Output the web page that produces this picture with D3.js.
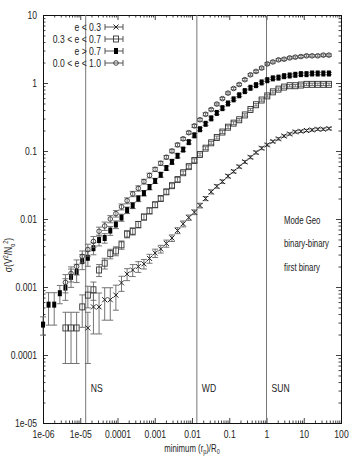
<!DOCTYPE html>
<html>
<head>
<meta charset="utf-8">
<script src="https://cdn.jsdelivr.net/npm/d3@7"></script>
<style>
    body { margin: 0; background: #fff; }
    text { font-family: "Liberation Sans", Arial, sans-serif; fill: #222; }
</style>
</head>
<body>
<div id="chart"></div>
<script>
// minimum periapsis / R_0, one bin every factor sqrt(2)
var rmin = [1e-6, 1.41e-6, 2e-6, 2.83e-6, 4e-6, 5.66e-6, 8e-6, 1.13e-5, 1.6e-5, 2.26e-5,
    3.2e-5, 4.53e-5, 6.4e-5, 9.05e-5, 1.28e-4, 1.81e-4, 2.56e-4, 3.62e-4, 5.12e-4, 7.24e-4,
    1.024e-3, 1.448e-3, 2.048e-3, 2.896e-3, 4.096e-3, 5.793e-3, 8.192e-3, 1.1585e-2, 1.6384e-2, 2.317e-2,
    3.2768e-2, 4.634e-2, 6.5536e-2, 9.268e-2, 0.131, 0.185, 0.262, 0.371, 0.524, 0.741,
    1.049, 1.483, 2.097, 2.966, 4.194, 5.932, 8.389, 11.86, 16.78, 23.73, 33.55, 47.46];

// sigma(V^2/N_0^2) per eccentricity group
var sigLow = [null, null, null, null, null, null, null, null, 2.5e-4, 5.1e-4,
    5.1e-4, 6.5e-4, 6.5e-4, 7.6e-4, 1.15e-3, 1.55e-3, 1.78e-3, 2.0e-3, 2.19e-3, 2.63e-3,
    3.16e-3, 3.63e-3, 4.37e-3, 5.25e-3, 6.76e-3, 8.5e-3, 1.05e-2, 1.26e-2, 1.58e-2, 2.0e-2,
    2.51e-2, 3.02e-2, 3.55e-2, 4.27e-2, 5.0e-2, 5.89e-2, 6.92e-2, 8.1e-2, 9.5e-2, 0.11,
    0.123, 0.138, 0.151, 0.166, 0.178, 0.191, 0.195, 0.2, 0.204, 0.209, 0.209, 0.214];
var sigMid = [null, null, null, null, 2.5e-4, 2.5e-4, 2.5e-4, 5.1e-4, 7.6e-4, 9.1e-4,
    1.78e-3, 2.24e-3, 3.09e-3, 3.39e-3, 4.17e-3, 6.0e-3, 6.6e-3, 8.3e-3, 1.07e-2, 1.32e-2,
    1.62e-2, 2.0e-2, 2.51e-2, 3.09e-2, 3.8e-2, 4.79e-2, 5.89e-2, 7.24e-2, 8.9e-2, 0.11,
    0.132, 0.158, 0.19, 0.224, 0.257, 0.288, 0.339, 0.407, 0.479, 0.562,
    0.646, 0.741, 0.813, 0.871, 0.912, 0.912, 0.933, 0.955, 0.955, 0.955, 0.955, 0.955];
var sigHigh = [2.8e-4, 5.5e-4, 5.5e-4, 8.1e-4, 9.8e-4, 1.41e-3, 1.66e-3, 2.4e-3, 2.69e-3, 3.72e-3,
    4.9e-3, 5.25e-3, 6.76e-3, 8.3e-3, 1.05e-2, 1.35e-2, 1.58e-2, 2.0e-2, 2.4e-2, 2.95e-2,
    3.63e-2, 4.47e-2, 5.62e-2, 6.92e-2, 8.5e-2, 0.105, 0.135, 0.17, 0.209, 0.251,
    0.302, 0.363, 0.427, 0.50, 0.575, 0.66, 0.76, 0.85, 0.93, 1.02,
    1.10, 1.17, 1.20, 1.26, 1.29, 1.32, 1.35, 1.35, 1.38, 1.38, 1.38, 1.38];
var sigAll = [null, null, null, null, 1.17e-3, 1.58e-3, 2.0e-3, 2.82e-3, 3.55e-3, 4.68e-3,
    6.6e-3, 7.9e-3, 1.0e-2, 1.2e-2, 1.51e-2, 1.86e-2, 2.34e-2, 2.82e-2, 3.55e-2, 4.37e-2,
    5.37e-2, 6.6e-2, 8.1e-2, 0.1, 0.123, 0.151, 0.186, 0.234, 0.288, 0.347,
    0.407, 0.49, 0.59, 0.71, 0.83, 0.95, 1.12, 1.32, 1.48, 1.66,
    1.91, 2.04, 2.19, 2.24, 2.34, 2.40, 2.45, 2.51, 2.51, 2.51, 2.57, 2.57];

// relative errors
var errLow = [null, null, null, null, null, null, null, null, 0.7, 0.6,
    0.6, 0.5, 0.5, 0.4, 0.25, 0.2, 0.2, 0.18, 0.16, 0.15,
    0.14, 0.13, 0.12, 0.11, 0.1, 0.1, 0.09, 0.08, 0.08, 0.07,
    0.07, 0.06, 0.06, 0.06, 0.05, 0.05, 0.05, 0.05, 0.05, 0.05,
    0.04, 0.04, 0.04, 0.04, 0.04, 0.04, 0.04, 0.04, 0.04, 0.04, 0.04, 0.04];
var errMid = [null, null, null, null, 0.7, 0.7, 0.7, 0.5, 0.35, 0.3,
    0.2, 0.18, 0.16, 0.15, 0.14, 0.12, 0.12, 0.11, 0.1, 0.1,
    0.09, 0.08, 0.08, 0.07, 0.07, 0.06, 0.06, 0.06, 0.05, 0.05,
    0.05, 0.05, 0.05, 0.05, 0.05, 0.04, 0.04, 0.04, 0.04, 0.04,
    0.04, 0.04, 0.04, 0.04, 0.04, 0.04, 0.04, 0.04, 0.04, 0.04, 0.04, 0.04];
var errHigh = [0.3, 0.5, 0.5, 0.3, 0.35, 0.3, 0.3, 0.25, 0.25, 0.2,
    0.18, 0.16, 0.15, 0.13, 0.12, 0.11, 0.1, 0.1, 0.09, 0.09,
    0.08, 0.08, 0.07, 0.07, 0.07, 0.06, 0.06, 0.06, 0.05, 0.05,
    0.05, 0.05, 0.05, 0.04, 0.04, 0.04, 0.04, 0.04, 0.04, 0.04,
    0.04, 0.04, 0.04, 0.04, 0.04, 0.04, 0.04, 0.04, 0.04, 0.04, 0.04, 0.04];
var errAll = [null, null, null, null, 0.3, 0.25, 0.25, 0.2, 0.2, 0.18,
    0.15, 0.14, 0.12, 0.11, 0.1, 0.1, 0.09, 0.09, 0.08, 0.08,
    0.07, 0.07, 0.06, 0.06, 0.06, 0.05, 0.05, 0.05, 0.05, 0.05,
    0.04, 0.04, 0.04, 0.04, 0.04, 0.04, 0.04, 0.04, 0.04, 0.04,
    0.04, 0.04, 0.04, 0.04, 0.04, 0.04, 0.04, 0.04, 0.04, 0.04, 0.04, 0.04];

var legendLabels = ["e < 0.3", "0.3 < e < 0.7", "e > 0.7", "0.0 < e < 1.0"];
var xTicks = [1e-6, 1e-5, 1e-4, 1e-3, 1e-2, 0.1, 1, 10, 100];
var xTickLabels = ["1e-06", "1e-05", "0.0001", "0.001", "0.01", "0.1", "1", "10", "100"];
var yTicks = [1e-5, 1e-4, 1e-3, 1e-2, 0.1, 1, 10];
var yTickLabels = ["1e-05", "0.0001", "0.001", "0.01", "0.1", "1", "10"];
var objectNames = ["NS", "WD", "SUN"];
var objectRadius = [1.4e-5, 0.0135, 1];
var noteLines = ["Mode Geo", "binary-binary", "first binary"];

var width = 354, height = 463;
var plotLeft = 43, plotRight = 341, plotTop = 15, plotBottom = 423;
var squeeze = 0.78; // narrow lettering like the original

var svg = d3.select("#chart").append("svg")
    .attr("width", width)
    .attr("height", height);

var x = d3.scaleLog().domain([1e-6, 100]).range([plotLeft, plotRight]);
var y = d3.scaleLog().domain([1e-5, 10]).range([plotBottom, plotTop]);

// squeeze a text horizontally around its own x
function narrow(sel) {
    sel.each(function() {
        var t = d3.select(this);
        var tx = +t.attr("x") || 0;
        t.attr("x", tx / squeeze).attr("transform", "scale(" + squeeze + ",1)");
    });
}

// minor ticks 2..9 of each decade
var xMinor = x.ticks().filter(function(d) { return Math.abs(Math.log10(d) - Math.round(Math.log10(d))) > 1e-6; });
var yMinor = y.ticks().filter(function(d) { return Math.abs(Math.log10(d) - Math.round(Math.log10(d))) > 1e-6; });

function styleAxis(g) {
    g.select(".domain").remove();
    g.selectAll("line").attr("stroke", "#444");
    g.selectAll("text").style("font-size", "11px").attr("fill", "#222").call(narrow);
}

svg.append("g").attr("transform", "translate(0," + plotBottom + ")")
    .call(d3.axisBottom(x).tickValues(xTicks).tickSize(-5).tickPadding(7)
        .tickFormat(function(d, i) { return xTickLabels[i]; }))
    .call(styleAxis);
svg.append("g").attr("transform", "translate(0," + plotBottom + ")")
    .call(d3.axisBottom(x).tickValues(xMinor).tickSize(-2.5).tickFormat(""))
    .call(styleAxis);
svg.append("g").attr("transform", "translate(0," + plotTop + ")")
    .call(d3.axisTop(x).tickValues(xTicks).tickSize(-5).tickFormat(""))
    .call(styleAxis);
svg.append("g").attr("transform", "translate(0," + plotTop + ")")
    .call(d3.axisTop(x).tickValues(xMinor).tickSize(-2.5).tickFormat(""))
    .call(styleAxis);

svg.append("g").attr("transform", "translate(" + plotLeft + ",0)")
    .call(d3.axisLeft(y).tickValues(yTicks).tickSize(-5).tickPadding(6)
        .tickFormat(function(d, i) { return yTickLabels[i]; }))
    .call(styleAxis);
svg.append("g").attr("transform", "translate(" + plotLeft + ",0)")
    .call(d3.axisLeft(y).tickValues(yMinor).tickSize(-2.5).tickFormat(""))
    .call(styleAxis);
svg.append("g").attr("transform", "translate(" + plotRight + ",0)")
    .call(d3.axisRight(y).tickValues(yTicks).tickSize(-5).tickFormat(""))
    .call(styleAxis);
svg.append("g").attr("transform", "translate(" + plotRight + ",0)")
    .call(d3.axisRight(y).tickValues(yMinor).tickSize(-2.5).tickFormat(""))
    .call(styleAxis);

// frame
svg.append("rect")
    .attr("x", plotLeft).attr("y", plotTop)
    .attr("width", plotRight - plotLeft).attr("height", plotBottom - plotTop)
    .attr("fill", "none").attr("stroke", "#111").attr("stroke-width", 1)
    .attr("shape-rendering", "crispEdges");

// NS / WD / SUN radii
svg.selectAll(".obj").data(objectRadius).enter().append("line")
    .attr("class", "obj")
    .attr("x1", function(d) { return x(d); }).attr("x2", function(d) { return x(d); })
    .attr("y1", plotTop).attr("y2", plotBottom)
    .attr("stroke", "#777").attr("stroke-width", 1);
svg.selectAll(".objlabel").data(objectRadius).enter().append("text")
    .attr("class", "objlabel")
    .attr("x", function(d) { return x(d) + 5; })
    .attr("y", 392)
    .style("font-size", "11px")
    .text(function(d, i) { return objectNames[i]; })
    .call(narrow);

// note
svg.selectAll(".note").data(noteLines).enter().append("text")
    .attr("class", "note")
    .attr("x", 284)
    .attr("y", function(d, i) { return [224, 247, 271][i]; })
    .style("font-size", "10px")
    .text(function(d) { return d; })
    .call(narrow);

// marker drawing
function drawMarker(g, kind) {
    if (kind == "cross") {
        g.append("path").attr("d", "M-2.5,-2.5L2.5,2.5M-2.5,2.5L2.5,-2.5")
            .attr("stroke", "#222").attr("stroke-width", 1).attr("fill", "none");
    } else if (kind == "open") {
        g.append("rect").attr("x", -2.5).attr("y", -3).attr("width", 5).attr("height", 6)
            .attr("fill", "none").attr("stroke", "#333").attr("stroke-width", 0.9);
    } else if (kind == "filled") {
        g.append("rect").attr("x", -2).attr("y", -3).attr("width", 4).attr("height", 6)
            .attr("fill", "#000");
    } else {
        g.append("circle").attr("r", 2.3)
            .attr("fill", "none").attr("stroke", "#333").attr("stroke-width", 0.9);
    }
}

var series = [
    { kind: "cross", vals: sigLow, err: errLow },
    { kind: "open", vals: sigMid, err: errMid },
    { kind: "filled", vals: sigHigh, err: errHigh },
    { kind: "circle", vals: sigAll, err: errAll }
];

series.forEach(function(s) {
    var pts = [];
    for (var i = 0; i < rmin.length; i++) {
        if (s.vals[i] != null) {
            pts.push({ x: rmin[i], v: s.vals[i], f: s.err[i] });
        }
    }
    var g = svg.append("g");
    var pg = g.selectAll("g").data(pts).enter().append("g")
        .attr("transform", function(d) { return "translate(" + x(d.x) + "," + y(d.v) + ")"; });
    // error bars then the point
    pg.each(function(d) {
        var el = d3.select(this);
        var y0 = y(d.v);
        var yTop = y(d.v * (1 + d.f)) - y0;
        var yBot = y(Math.max(d.v * (1 - d.f), 1e-5)) - y0;
        el.append("path")
            .attr("d", "M0," + yTop + "V" + yBot + "M-3," + yTop + "H3M-3," + yBot + "H3")
            .attr("stroke", "#666").attr("stroke-width", 0.9).attr("fill", "none");
        drawMarker(el, s.kind);
    });
});

// legend
var legend = svg.selectAll(".legend").data(legendLabels).enter().append("g")
    .attr("class", "legend")
    .attr("transform", function(d, i) { return "translate(0," + (27 + i * 12) + ")"; });
legend.append("text")
    .attr("x", 101).attr("dy", "0.35em")
    .style("text-anchor", "end")
    .style("font-size", "11px")
    .text(function(d) { return d; })
    .call(narrow);
legend.append("path")
    .attr("d", "M105,0H123M105,-3V3M123,-3V3")
    .attr("stroke", "#555").attr("stroke-width", 1).attr("fill", "none");
legend.each(function(d, i) {
    var m = d3.select(this).append("g").attr("transform", "translate(116,0)");
    drawMarker(m, series[i].kind);
});

// axis titles
svg.append("text")
    .attr("transform", "translate(12,255) rotate(-90) scale(" + squeeze + ",1)")
    .style("text-anchor", "middle")
    .style("font-size", "11px")
    .html("σ(V<tspan dy='-4' font-size='7px'>2</tspan><tspan dy='4'>/N</tspan><tspan dy='3' font-size='7px'>o</tspan><tspan dy='-7' font-size='7px'>2</tspan><tspan dy='4'>)</tspan>");

svg.append("text")
    .attr("transform", "translate(192,452) scale(" + squeeze + ",1)")
    .style("text-anchor", "middle")
    .style("font-size", "10px")
    .html("minimum (r<tspan dy='2' font-size='7px'>p</tspan><tspan dy='-2'>)/R</tspan><tspan dy='2' font-size='7px'>0</tspan>");
</script>
</body>
</html>
